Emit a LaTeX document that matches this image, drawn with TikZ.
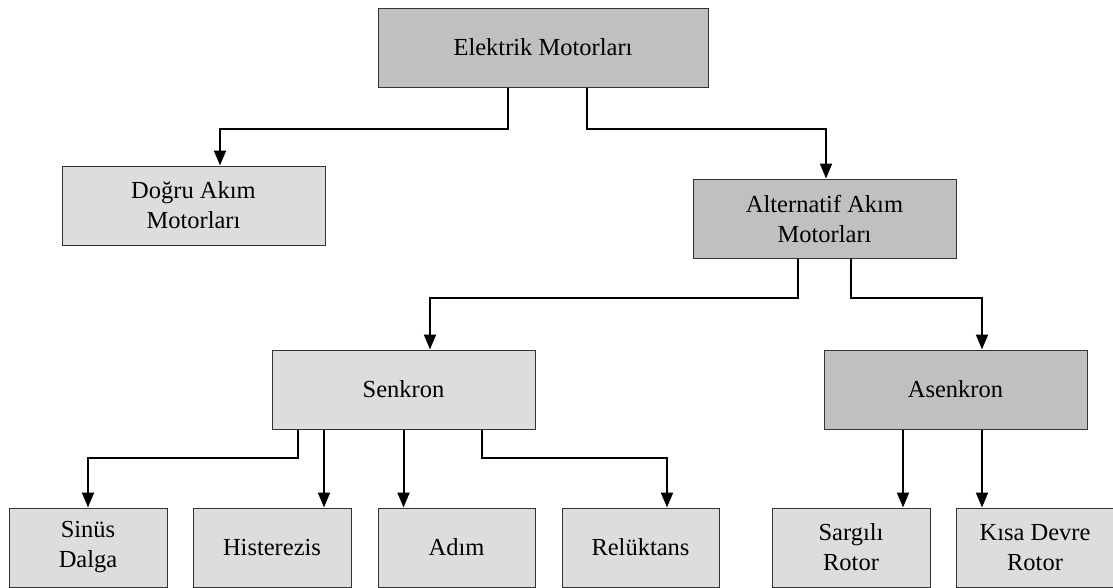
\documentclass[tikz,border=0pt]{standalone}
\usepackage{fontspec}
\setmainfont{Liberation Serif}
\usetikzlibrary{arrows.meta}
\definecolor{boxdark}{HTML}{C0C0C0}
\definecolor{boxlight}{HTML}{DDDDDD}
\begin{document}
\begin{tikzpicture}[x=1pt,y=-1pt,
  box/.style={draw=black!80,line width=1pt,minimum height=79pt,align=center,
    inner sep=0pt,font=\fontsize{24.5}{30}\selectfont},
  darkbox/.style={box,fill=boxdark},
  lightbox/.style={box,fill=boxlight},
  conn/.style={line width=2pt,-{Triangle[length=15pt,width=12pt]}}]
\useasboundingbox (0,0) rectangle (1113,587);
% level 0
\node[darkbox,minimum width=330pt] (top) at (543,47.5) {Elektrik Motorları};
% level 1
\node[lightbox,minimum width=263pt] (dc) at (193.5,205.5) {Doğru Akım\\Motorları};
\node[darkbox,minimum width=263pt] (ac) at (824.5,218.5) {Alternatif Akım\\Motorları};
% level 2
\node[lightbox,minimum width=263pt] (senkron) at (403.5,389.5) {Senkron};
\node[darkbox,minimum width=263pt] (asenkron) at (955.5,389.5) {Asenkron};
% level 3
\node[lightbox,minimum width=158pt] (sinus) at (88,547.5) {Sinüs\\Dalga};
\node[lightbox,minimum width=158pt] (hister) at (272,547.5) {Histerezis};
\node[lightbox,minimum width=157pt] (adim) at (456.5,547.5) {Adım};
\node[lightbox,minimum width=157pt] (reluk) at (640.5,547.5) {Relüktans};
\node[lightbox,minimum width=158pt] (sargili) at (851,547.5) {Sargılı\\Rotor};
\node[lightbox,minimum width=158pt] (kisa) at (1035,547.5) {Kısa Devre\\Rotor};
% connectors from the top box
\draw[conn] ([xshift=-35pt]top.south) -- ++(0,41) -| ([xshift=26.5pt]dc.north);
\draw[conn] ([xshift=44pt]top.south) -- ++(0,41) -| ([xshift=1.5pt]ac.north);
% alternating current branch
\draw[conn] ([xshift=-26.5pt]ac.south) -- ++(0,39) -| ([xshift=26.5pt]senkron.north);
\draw[conn] ([xshift=26.5pt]ac.south) -- ++(0,39) -| ([xshift=26.5pt]asenkron.north);
% synchronous motor types
\draw[conn] ([xshift=-105.5pt]senkron.south) -- ++(0,28) -| (sinus.north);
\draw[conn] ([xshift=-79.5pt]senkron.south) -- ([xshift=-79.5pt]senkron.south |- hister.north);
\draw[conn] ([xshift=0pt]senkron.south) -- (senkron.south |- adim.north);
\draw[conn] ([xshift=78.5pt]senkron.south) -- ++(0,28) -| ([xshift=26.5pt]reluk.north);
% asynchronous motor types
\draw[conn] ([xshift=-52.5pt]asenkron.south) -- ([xshift=-52.5pt]asenkron.south |- sargili.north);
\draw[conn] ([xshift=26.5pt]asenkron.south) -- ([xshift=26.5pt]asenkron.south |- kisa.north);
\end{tikzpicture}
\end{document}
